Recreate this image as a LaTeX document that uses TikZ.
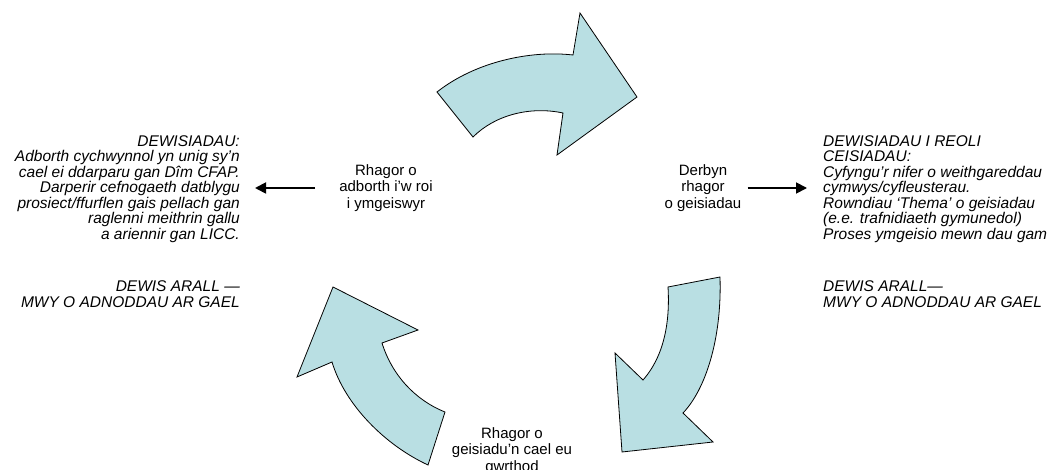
\documentclass[tikz,border=0pt]{standalone}
\usepackage{fontspec}
\setmainfont{Liberation Sans}
\usetikzlibrary{arrows.meta}
\definecolor{cyclefill}{RGB}{185,223,227}
\tikzset{
  cyclearrow/.style={draw=black,fill=cyclefill,line width=0.8pt,line join=miter},
  steptext/.style={inner sep=0pt,align=center,font=\fontsize{15}{16.5}\selectfont},
  choices/.style={inner sep=0pt,font=\fontsize{15.5}{15.5}\selectfont\itshape},
  link/.style={line width=1.8pt,-{Triangle[length=11pt,width=11pt]}},
}

\begin{document}
\begin{tikzpicture}[x=1pt,y=-1pt]
\useasboundingbox (0,0) rectangle (1055,470);
\clip (0,0) rectangle (1055,470);
\draw[cyclearrow] (437,92) .. controls (475,62) and (530,50) .. (573,55) -- (580,13) -- (637,97) -- (557,155) -- (563,113) .. controls (530,106) and (495,115) .. (473,137) -- cycle;
\draw[cyclearrow] (668,287) -- (720,277) .. controls (722,340) and (705,390) .. (683,413) -- (713,442) -- (622,452) -- (615,353) -- (643,380) .. controls (665,355) and (670,320) .. (668,287) -- cycle;
\draw[cyclearrow] (333,287) -- (418,330) -- (382,343) .. controls (392,375) and (415,400) .. (445,412) -- (428,465) .. controls (385,445) and (345,405) .. (332,362) -- (297,377) -- cycle;

\node[steptext] (feedback) at (386,188) {Rhagor o\\adborth i’w roi\\i ymgeiswyr};
\node[steptext] (received) at (703,188) {Derbyn\\rhagor\\o geisiadau};
\node[steptext] (rejected) at (512,451) {Rhagor o\\geisiadu’n cael eu\\gwrthod};

\node[choices,align=right,anchor=north east] (leftopts) at (240,135) {DEWISIADAU:\\
  Adborth cychwynnol yn unig sy’n\\
  cael ei ddarparu gan Dîm CFAP.\\
  Darperir cefnogaeth datblygu\\
  prosiect/ffurflen gais pellach gan\\
  raglenni meithrin gallu\\
  a ariennir gan LICC.\\[37pt]
  DEWIS ARALL —\\
  MWY O ADNODDAU AR GAEL};
\node[choices,align=left,anchor=north west] (rightopts) at (823,135) {DEWISIADAU I REOLI\\
  CEISIADAU:\\
  Cyfyngu’r nifer o weithgareddau\\
  cymwys/cyfleusterau.\\
  Rowndiau ‘Thema’ o geisiadau\\
  (e.e. trafnidiaeth gymunedol)\\
  Proses ymgeisio mewn dau gam\\[37pt]
  DEWIS ARALL—\\
  MWY O ADNODDAU AR GAEL};

\draw[link,shorten <=24pt,shorten >=15pt] (feedback.west) -- (feedback.west -| leftopts.east);
\draw[link,shorten <=6pt,shorten >=16pt] (received.east) -- (received.east -| rightopts.west);
\end{tikzpicture}
\end{document}
